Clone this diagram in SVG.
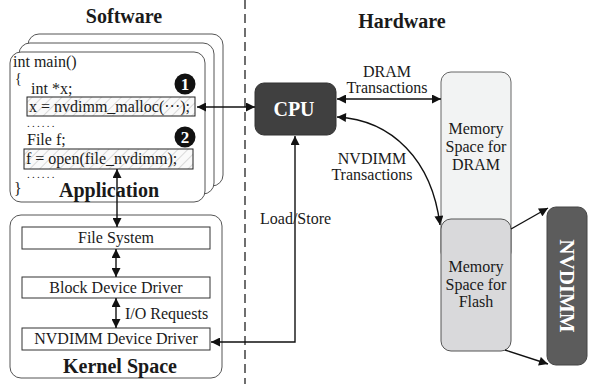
<svg xmlns="http://www.w3.org/2000/svg" width="589" height="384" viewBox="0 0 589 384">
<style>
  text { font-family: "Liberation Serif", "Times New Roman", serif; fill: #1a1a1a; }
  .code { font-size: 16px; }
  .dots { font-size: 11px; letter-spacing: 2.2px; }
  .t16 { font-size: 16px; }
  .title { font-size: 20px; font-weight: bold; }
  .card { fill: #ffffff; stroke: #555555; stroke-width: 1; }
  .box { fill: #ffffff; stroke: #333333; stroke-width: 1; }
  .hbox { fill: url(#hatch); stroke: #222222; stroke-width: 1; }
  .conn { fill: none; stroke: #111111; stroke-width: 1.4; }
  .num { fill: #ffffff; font-size: 17px; font-weight: bold; }
</style>
<defs>
  <pattern id="hatch" patternUnits="userSpaceOnUse" width="7" height="7" patternTransform="rotate(45)">
    <rect width="7" height="7" fill="#fafafa"/>
    <line x1="0" y1="0" x2="0" y2="7" stroke="#c4c4c4" stroke-width="1.2"/>
  </pattern>
  <marker id="ah" viewBox="0 0 10 10" refX="10" refY="5" markerWidth="10" markerHeight="9" markerUnits="userSpaceOnUse" orient="auto-start-reverse">
    <path d="M0,0 L10,5 L0,10 z" fill="#111111"/>
  </marker>
</defs>

<!-- divider -->
<line x1="245" y1="0" x2="245" y2="384" stroke="#222" stroke-width="1.3" stroke-dasharray="9,5"/>

<text class="title" x="124" y="23" text-anchor="middle">Software</text>
<text class="title" x="402" y="28" text-anchor="middle">Hardware</text>

<!-- Application -->
<g id="application">
  <rect class="card" x="28" y="34" width="195" height="152" rx="11"/>
  <rect class="card" x="19" y="43" width="195" height="151" rx="11"/>
  <rect class="card" x="10" y="52" width="195" height="150" rx="11"/>
  <text class="code" x="13" y="67">int main()</text>
  <text x="15" y="83" style="font-size:14px">{</text>
  <text class="code" x="31" y="94">int *x;</text>
  <rect class="hbox" x="27" y="97" width="168" height="19"/>
  <text class="code" x="29" y="112">x = nvdimm_malloc(···);</text>
  <circle cx="185" cy="84" r="10.5" fill="#111"/>
  <text class="num" x="185" y="90" text-anchor="middle">1</text>
  <text class="dots" x="27" y="127">......</text>
  <text class="code" x="27" y="145">File f;</text>
  <circle cx="185" cy="137" r="10.5" fill="#111"/>
  <text class="num" x="185" y="143" text-anchor="middle">2</text>
  <rect class="hbox" x="24" y="149" width="169" height="20"/>
  <text class="code" x="26" y="164">f = open(file_nvdimm);</text>
  <text class="dots" x="27" y="178">......</text>
  <text class="code" x="14" y="194">}</text>
  <text class="title" x="109" y="197" text-anchor="middle">Application</text>
</g>

<!-- Kernel -->
<g id="kernel">
  <rect class="card" x="10" y="215" width="212" height="163" rx="11"/>
  <text class="title" x="120" y="373" text-anchor="middle">Kernel Space</text>
</g>
<g id="filesystem">
  <rect class="box" x="22" y="227" width="188" height="22"/>
  <text class="t16" x="116" y="243" text-anchor="middle">File System</text>
</g>
<g id="blockdriver">
  <rect class="box" x="22" y="277" width="188" height="21"/>
  <text class="t16" x="116" y="293" text-anchor="middle">Block Device Driver</text>
</g>
<g id="nvdimmdriver">
  <rect class="box" x="22" y="328" width="188" height="22"/>
  <text class="t16" x="116" y="344" text-anchor="middle">NVDIMM Device Driver</text>
</g>

<!-- CPU -->
<g id="cpu">
  <rect x="255" y="83" width="81" height="52" rx="9" fill="#404040" stroke="#333"/>
  <text x="294" y="116" text-anchor="middle" style="font-size:20px;font-weight:bold;fill:#ffffff">CPU</text>
</g>

<!-- memory spaces -->
<g id="dram">
  <rect x="441" y="72" width="70" height="190" rx="10" fill="#f2f3f3" stroke="#666"/>
  <text class="t16" x="476" y="134" text-anchor="middle">Memory</text>
  <text class="t16" x="476" y="152" text-anchor="middle">Space for</text>
  <text class="t16" x="476" y="170" text-anchor="middle">DRAM</text>
</g>
<g id="flash">
  <rect x="441" y="219" width="70" height="132" rx="10" fill="#d9d9db" stroke="#555"/>
  <text class="t16" x="476" y="272" text-anchor="middle">Memory</text>
  <text class="t16" x="476" y="290" text-anchor="middle">Space for</text>
  <text class="t16" x="476" y="307" text-anchor="middle">Flash</text>
</g>
<g id="nvdimm">
  <rect x="547" y="207" width="40" height="158" rx="9" fill="#5c5c5c" stroke="#444"/>
  <text transform="translate(560,286) rotate(90)" text-anchor="middle" style="font-size:21px;font-weight:bold;fill:#ffffff">NVDIMM</text>
</g>

<!-- connectors -->
<g id="connectors">
  <line class="conn" x1="197" y1="107" x2="255" y2="107" marker-start="url(#ah)" marker-end="url(#ah)"/>
  <line class="conn" x1="117" y1="169" x2="117" y2="227" marker-start="url(#ah)" marker-end="url(#ah)"/>
  <line class="conn" x1="116" y1="249" x2="116" y2="277" marker-start="url(#ah)" marker-end="url(#ah)"/>
  <line class="conn" x1="116" y1="298" x2="116" y2="328" marker-start="url(#ah)" marker-end="url(#ah)"/>
  <path class="conn" d="M211,342 H295 V136" marker-start="url(#ah)" marker-end="url(#ah)"/>
  <line class="conn" x1="337" y1="99" x2="441" y2="99" marker-start="url(#ah)" marker-end="url(#ah)"/>
  <path class="conn" d="M337,117 C392,120 432,160 440,225" marker-start="url(#ah)" marker-end="url(#ah)"/>
  <line class="conn" x1="511" y1="229" x2="548" y2="208" marker-end="url(#ah)"/>
  <line class="conn" x1="505" y1="350" x2="548" y2="364" marker-end="url(#ah)"/>
</g>

<!-- connector labels -->
<text class="t16" x="387" y="77" text-anchor="middle">DRAM</text>
<text class="t16" x="387" y="93" text-anchor="middle">Transactions</text>
<text class="t16" x="372" y="164" text-anchor="middle">NVDIMM</text>
<text class="t16" x="372" y="180" text-anchor="middle">Transactions</text>
<text class="t16" x="260" y="224">Load/Store</text>
<text class="t16" x="125" y="319">I/O Requests</text>
</svg>
